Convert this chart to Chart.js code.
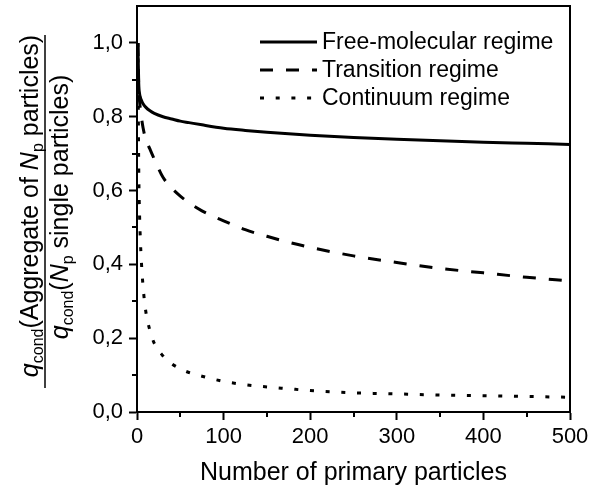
<!DOCTYPE html>
<html>
<head>
<meta charset="utf-8">
<script src="https://cdn.jsdelivr.net/npm/chart.js@4/dist/chart.umd.min.js"></script>
<style>
  html, body { margin: 0; padding: 0; background: #fff; }
  canvas { display: block; }
</style>
</head>
<body>
<canvas id="chart" width="590" height="488"></canvas>
<script>
// Number of primary particles in the aggregate
const particleCounts = [1, 2, 3, 4, 5, 7, 10, 15, 20, 30, 40, 50, 60, 75, 100, 125, 150, 175, 200, 250, 300, 350, 400, 450, 500];

// Condensation-rate ratio for each regime
const freeMolecular = [1.0, 0.89, 0.862, 0.852, 0.845, 0.835, 0.826, 0.816, 0.809, 0.800, 0.794, 0.788, 0.784, 0.778, 0.769, 0.763, 0.758, 0.754, 0.750, 0.744, 0.739, 0.735, 0.731, 0.728, 0.725];
const transitionRegime = [1.0, 0.88, 0.84, 0.82, 0.80, 0.77, 0.74, 0.712, 0.685, 0.636, 0.607, 0.585, 0.567, 0.545, 0.518, 0.494, 0.476, 0.460, 0.446, 0.423, 0.405, 0.389, 0.377, 0.365, 0.355];
const continuumRegime = [1.0, 0.66, 0.53, 0.46, 0.41, 0.34, 0.275, 0.22, 0.186, 0.152, 0.131, 0.117, 0.107, 0.097, 0.083, 0.074, 0.068, 0.063, 0.058, 0.052, 0.049, 0.046, 0.044, 0.042, 0.040];

const seriesLabels = ['Free-molecular regime', 'Transition regime', 'Continuum regime'];

// Axis ticks
const xTickValues = [0, 100, 200, 300, 400, 500];
const xTickLabels = ['0', '100', '200', '300', '400', '500'];
const xMinorTicks = [50, 150, 250, 350, 450];
const yTickValues = [0, 0.2, 0.4, 0.6, 0.8, 1.0];
const yTickLabels = ['0,0', '0,2', '0,4', '0,6', '0,8', '1,0'];
const yMinorTicks = [0.1, 0.3, 0.5, 0.7, 0.9];

const FONT = 'Liberation Sans, Arial, sans-serif';
const INK = '#000';

const toPoints = (vals) => particleCounts.map((n, i) => ({ x: n, y: vals[i] }));

// Frame (top/right edges), minor ticks, legend and the fraction-style y title
const decorations = {
  id: 'decorations',
  afterDraw(chart) {
    const { ctx, chartArea: a, scales: { x, y } } = chart;
    ctx.save();
    ctx.strokeStyle = INK;
    ctx.lineWidth = 2;
    ctx.lineCap = 'butt';
    ctx.setLineDash([]);

    // top and right frame
    ctx.beginPath();
    ctx.moveTo(a.left - 1, a.top);
    ctx.lineTo(a.right, a.top);
    ctx.lineTo(a.right, a.bottom + 1);
    ctx.stroke();

    // minor ticks
    ctx.beginPath();
    yMinorTicks.forEach(v => {
      const py = Math.round(y.getPixelForValue(v));
      ctx.moveTo(a.left - 5, py);
      ctx.lineTo(a.left, py);
    });
    xMinorTicks.forEach(v => {
      const px = Math.round(x.getPixelForValue(v));
      ctx.moveTo(px, a.bottom);
      ctx.lineTo(px, a.bottom + 5);
    });
    ctx.stroke();

    // legend
    const lx0 = 260, lx1 = 317, tx = 322, rowY = [42, 70, 98];
    ctx.font = '23px ' + FONT;
    ctx.fillStyle = INK;
    ctx.textBaseline = 'middle';
    ctx.textAlign = 'left';
    chart.data.datasets.forEach((ds, i) => {
      ctx.lineWidth = ds.borderWidth;
      ctx.setLineDash(ds.borderDash || []);
      ctx.beginPath();
      ctx.moveTo(lx0, rowY[i]);
      ctx.lineTo(lx1, rowY[i]);
      ctx.stroke();
      ctx.fillText(ds.label, tx, rowY[i] + 1);
    });
    ctx.setLineDash([]);

    // y-axis title: q_cond(Aggregate of N_p particles) / q_cond(N_p single particles)
    const numerator = [
      { t: 'q', it: true }, { t: 'cond', sub: true }, { t: '(Aggregate of ' },
      { t: 'N', it: true }, { t: 'p', sub: true }, { t: ' particles)' }
    ];
    const denominator = [
      { t: 'q', it: true }, { t: 'cond', sub: true }, { t: '(' },
      { t: 'N', it: true }, { t: 'p', sub: true }, { t: ' single particles)' }
    ];
    const fontFor = s => (s.it ? 'italic ' : '') + (s.sub ? '16px ' : '25px ') + FONT;
    const widthOf = segs => segs.reduce((w, s) => { ctx.font = fontFor(s); return w + ctx.measureText(s.t).width; }, 0);
    const drawRich = (segs, cx, base) => {
      let px = cx - widthOf(segs) / 2;
      ctx.textAlign = 'left';
      ctx.textBaseline = 'alphabetic';
      segs.forEach(s => {
        ctx.font = fontFor(s);
        ctx.fillText(s.t, px, base + (s.sub ? 5 : 0));
        px += ctx.measureText(s.t).width;
      });
    };
    ctx.translate(45, 211);
    ctx.rotate(-Math.PI / 2);
    drawRich(numerator, 5, -7);
    drawRich(denominator, 4, 23);
    ctx.lineWidth = 1.5;
    ctx.beginPath();
    ctx.moveTo(-177, 0);
    ctx.lineTo(176, 0);
    ctx.stroke();
    ctx.restore();
  }
};

new Chart(document.getElementById('chart'), {
  type: 'line',
  data: {
    datasets: [
      { label: seriesLabels[0], data: toPoints(freeMolecular), borderWidth: 3, borderDash: [] },
      { label: seriesLabels[1], data: toPoints(transitionRegime), borderWidth: 3, borderDash: [13, 13] },
      { label: seriesLabels[2], data: toPoints(continuumRegime), borderWidth: 3, borderDash: [4, 11.7] }
    ]
  },
  options: {
    responsive: false,
    animation: false,
    devicePixelRatio: 1,
    layout: { padding: { left: 0, right: 20, top: 6, bottom: 0 } },
    plugins: { legend: { display: false }, tooltip: { enabled: false } },
    elements: {
      point: { radius: 0 },
      line: { borderColor: INK, fill: false, cubicInterpolationMode: 'monotone', borderCapStyle: 'butt' }
    },
    scales: {
      x: {
        type: 'linear',
        min: 0,
        max: 500,
        afterFit(s) { s.height = 76; s.paddingLeft = 0; s.paddingRight = 0; },
        afterBuildTicks(s) { s.ticks = xTickValues.map(v => ({ value: v })); },
        ticks: {
          autoSkip: false,
          maxRotation: 0,
          padding: 4,
          color: INK,
          font: { family: FONT, size: 22 },
          callback: (v, i) => xTickLabels[i]
        },
        grid: { drawOnChartArea: false, drawTicks: true, tickLength: 8, tickColor: INK, tickWidth: 2 },
        border: { display: true, color: INK, width: 2 },
        title: { display: true, text: 'Number of primary particles', color: INK, font: { family: FONT, size: 25 }, padding: 0 }
      },
      y: {
        type: 'linear',
        min: 0,
        max: 1.1,
        afterFit(s) { s.width = 137; s.paddingTop = 0; s.paddingBottom = 0; },
        afterBuildTicks(s) { s.ticks = yTickValues.map(v => ({ value: v })); },
        ticks: {
          autoSkip: false,
          padding: 6,
          color: INK,
          font: { family: FONT, size: 22 },
          callback: (v, i) => yTickLabels[i]
        },
        grid: { drawOnChartArea: false, drawTicks: true, tickLength: 8, tickColor: INK, tickWidth: 2 },
        border: { display: true, color: INK, width: 2 }
      }
    }
  },
  plugins: [decorations]
});
</script>
</body>
</html>
